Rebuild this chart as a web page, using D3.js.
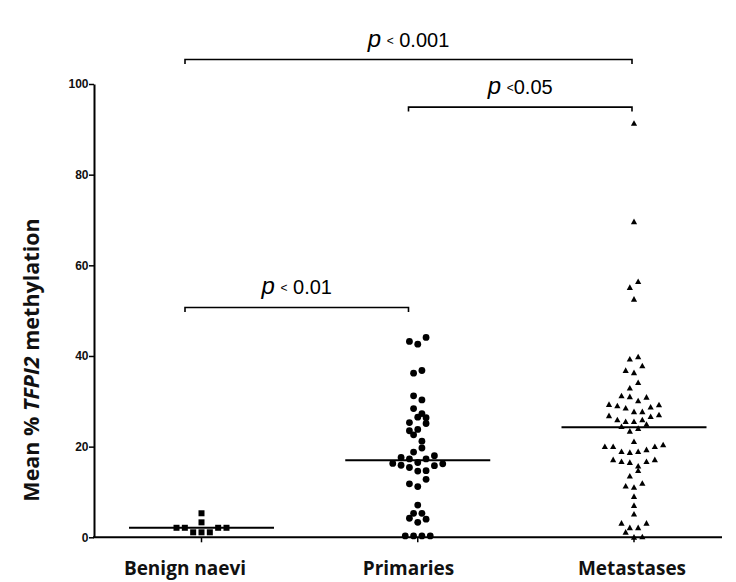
<!DOCTYPE html>
<html><head><meta charset="utf-8">
<script src="https://cdn.jsdelivr.net/npm/d3@7"></script>
<style>body{margin:0;background:#fff}svg{display:block}</style>
</head><body>
<svg id="chart" width="736" height="582"></svg>
<script>
// ---------- data ----------
const categories = ["Benign naevi", "Primaries", "Metastases"];
const benignValues = [2.1, 2.1, 1.1, 1.1, 1.1, 2.1, 2.1, 3.3, 5.3];
const primaryValues = [0.3, 0.3, 0.3, 0.3, 4.2, 3.3, 4.0, 5.3, 5.3, 7.1,
  11.8, 11.2, 12.8, 16.3, 15.9, 15.4, 14.6, 14.7, 15.8, 16.2,
  17.6, 17.3, 16.5, 17.3, 18.0, 18.8, 19.7, 22.6, 21.2,
  23.5, 23.8, 25.1, 25.3, 26.5, 26.4, 28.4, 27.3, 31.2, 30.3,
  36.2, 36.8, 43.2, 42.6, 44.1];
const metastasisValues = [1.1, 0.0, 0.1, 3.1, 2.1, 2.1, 3.1, 5.1, 7.0, 9.0,
  11.3, 11.0, 11.9, 13.5, 14.7, 17.1, 16.7, 16.5, 15.7, 16.7, 17.1,
  20.0, 20.0, 18.9, 18.7, 18.9, 19.3, 20.0, 20.4, 21.1,
  24.4, 23.4, 24.0, 24.9, 26.8, 25.9, 25.5, 25.5, 25.9, 26.6, 27.0,
  29.3, 29.0, 28.5, 27.7, 27.7, 28.7, 29.2, 31.2, 31.0, 30.1, 30.9,
  32.9, 34.1, 36.8, 36.3, 37.8, 39.3, 39.8, 52.5, 55.1, 56.4, 69.6, 91.3];
const medians = [2.1, 17.0, 24.3];
const yTicks = [0, 20, 40, 60, 80, 100];
const comparisonFrom = ["Benign naevi", "Primaries", "Benign naevi"];
const comparisonTo = ["Metastases", "Metastases", "Primaries"];
const comparisonText = ["< 0.001", "<0.05", "< 0.01"];
const comparisonLevel = [105.4, 94.9, 50.7];

// ---------- layout ----------
const svg = d3.select("#chart");
const y = d3.scaleLinear().domain([0, 100]).range([537.3, 84]);
const x = d3.scalePoint().domain(categories).range([201.5, 634]);
const xl = d3.scalePoint().domain(categories).range([185, 632]);
const axisLeftX = 94, axisRightX = 722;
const spacing = 8.33, rowTol = 8, medianHalf = 72.5;

function swarm(values, cx) {
  const idx = values.map((v, i) => i).sort((a, b) => values[a] - values[b] || a - b);
  const rows = []; let cur = null;
  idx.forEach(i => {
    if (cur && Math.abs(y(values[cur[0]]) - y(values[i])) < rowTol) cur.push(i);
    else { cur = [i]; rows.push(cur); }
  });
  const out = [];
  rows.forEach(r => {
    r.sort((a, b) => a - b);
    r.forEach((i, k) => out.push({ v: values[i], x: cx + (k - (r.length - 1) / 2) * spacing, y: y(values[i]) }));
  });
  return out;
}

// axes
const yAxis = d3.axisLeft(y).tickValues(yTicks).tickSize(5).tickSizeOuter(0).tickFormat(d3.format("d"));
const gy = svg.append("g").attr("transform", `translate(${axisLeftX},0)`).call(yAxis);
gy.select(".domain").attr("stroke", "#000").attr("stroke-width", 2);
gy.selectAll(".tick line").attr("stroke", "#000").attr("stroke-width", 1.5);
gy.selectAll(".tick text").attr("font-family", "'Liberation Sans', Arial, sans-serif")
  .attr("font-size", 12).attr("font-weight", "bold").attr("fill", "#111").attr("x", -5.5);

svg.append("line").attr("x1", axisLeftX - 1).attr("x2", axisRightX)
  .attr("y1", y(0)).attr("y2", y(0)).attr("stroke", "#000").attr("stroke-width", 2);
svg.selectAll("line.xtick").data(categories).join("line").attr("class", "xtick")
  .attr("x1", d => x(d)).attr("x2", d => x(d)).attr("y1", y(0)).attr("y2", y(0) + 5)
  .attr("stroke", "#000").attr("stroke-width", 1.5);

svg.selectAll("text.xlab").data(categories).join("text").attr("class", "xlab")
  .attr("x", d => xl(d)).attr("y", 575).attr("text-anchor", "middle")
  .attr("font-family", "'Open Sans', sans-serif").attr("font-weight", "bold")
  .attr("font-size", 19).attr("fill", "#111").text(d => d);

// y title
const title = svg.append("text").attr("transform", "translate(39,360) rotate(-90)")
  .attr("text-anchor", "middle").attr("font-family", "'Open Sans', sans-serif")
  .attr("font-weight", "bold").attr("font-size", 21.5).attr("fill", "#111");
title.append("tspan").text("Mean % ");
title.append("tspan").attr("font-style", "italic").text("TFPI2");
title.append("tspan").text(" methylation");

// medians
svg.selectAll("line.median").data(categories).join("line").attr("class", "median")
  .attr("x1", d => x(d) - medianHalf).attr("x2", d => x(d) + medianHalf)
  .attr("y1", (d, i) => y(medians[i])).attr("y2", (d, i) => y(medians[i]))
  .attr("stroke", "#000").attr("stroke-width", 2);

// points
svg.append("g").selectAll("rect").data(swarm(benignValues, x(categories[0]))).join("rect")
  .attr("x", d => d.x - 3).attr("y", d => d.y - 3).attr("width", 6).attr("height", 6).attr("fill", "#000");
svg.append("g").selectAll("circle").data(swarm(primaryValues, x(categories[1]))).join("circle")
  .attr("cx", d => d.x).attr("cy", d => d.y).attr("r", 3.4).attr("fill", "#000");
svg.append("g").selectAll("path").data(swarm(metastasisValues, x(categories[2]))).join("path")
  .attr("d", d => `M${d.x},${d.y - 3.2}L${d.x + 3.1},${d.y + 2.4}L${d.x - 3.1},${d.y + 2.4}Z`)
  .attr("fill", "#000");

// significance brackets
const comps = comparisonFrom.map((f, i) => ({ f, t: comparisonTo[i], txt: comparisonText[i], lv: comparisonLevel[i] }));
const cg = svg.append("g");
comps.forEach(c => {
  const x1 = xl(c.f), x2 = xl(c.t), yy = y(c.lv);
  cg.append("path").attr("d", `M${x1},${yy + 4.5}V${yy}H${x2}V${yy + 4.5}`)
    .attr("fill", "none").attr("stroke", "#000").attr("stroke-width", 1.6);
  const t = cg.append("text").attr("x", (x1 + x2) / 2).attr("y", yy - 13).attr("text-anchor", "middle")
    .attr("font-family", "'Liberation Sans', Arial, sans-serif").attr("font-size", 20).attr("fill", "#000");
  t.append("tspan").attr("font-style", "italic").attr("font-size", 24).text("p");
  const m = c.txt.match(/^(<)(\s?)(.*)$/);
  t.append("tspan").text(" ");
  t.append("tspan").attr("font-size", 12).attr("dy", -2).text(m[1]);
  t.append("tspan").attr("dy", 2).text(m[2] + m[3]);
});
</script>
</body></html>
